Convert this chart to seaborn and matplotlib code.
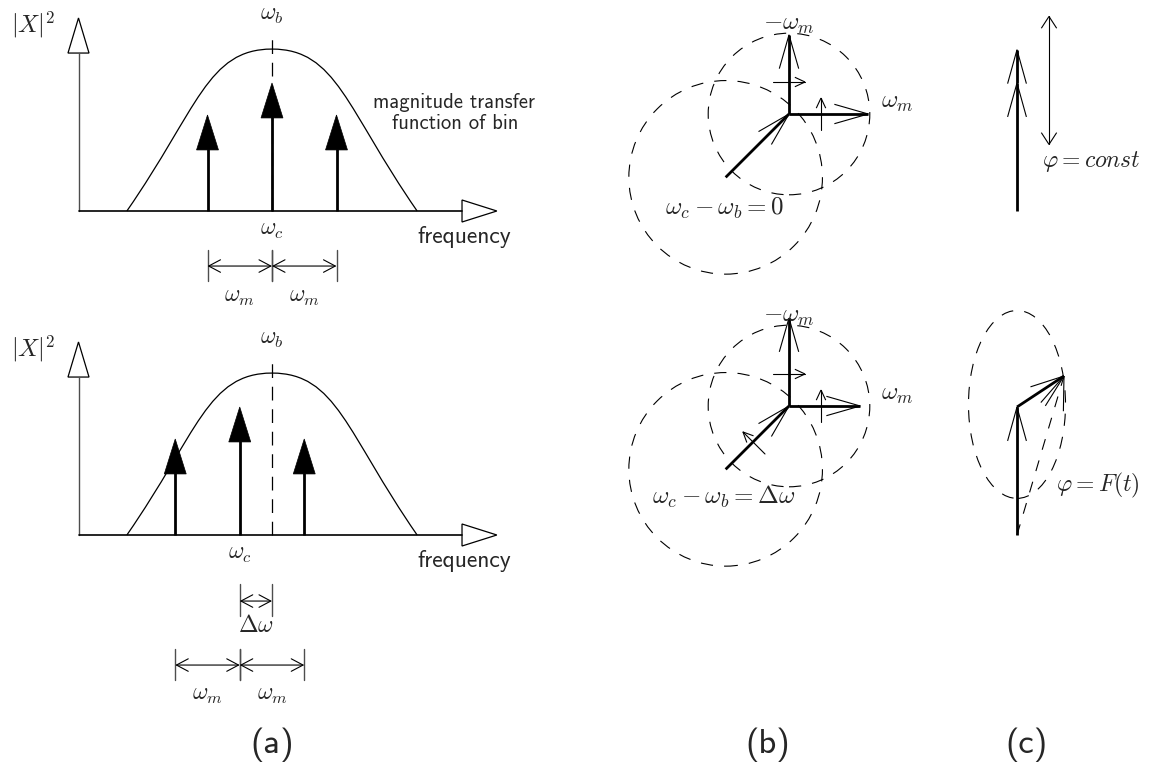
import numpy as np
import pandas as pd
import matplotlib
matplotlib.use("Agg")
import matplotlib.pyplot as plt
import seaborn as sns
from matplotlib.patches import Polygon, Circle, Ellipse, PathPatch
from matplotlib.path import Path

sns.set_theme(style="white")
plt.rcParams["font.family"] = ["cmss10", "DejaVu Sans"]
plt.rcParams["mathtext.fontset"] = "cm"
plt.rcParams["axes.unicode_minus"] = False

# ---------------------------------------------------------------- data
# (a) spectra: frequency in units of omega_m, bin centre omega_b at 0
OMEGA_M = 1.0
DELTA_OMEGA = 0.5
carrier_freqs = [0.0, -DELTA_OMEGA]          # omega_c - omega_b, upper / lower plot
sideband_orders = [-1, 0, 1]
line_heights = [0.75, 1.0, 0.75]
# magnitude transfer function of the bin: left half as cubic Bezier controls
tf_ctrl_f = [-2.25, -1.15, -1.0, 0.0]
tf_ctrl_h = [0.0, 0.80, 1.265, 1.265]

# (b) phasors, amplitudes relative to the unmodulated sideband
carrier_amp = 1.12
carrier_angle_deg = 45.0
neg_sideband_amp = [0.99, 1.10]              # -omega_m, upper / lower diagram
pos_sideband_amp = [0.99, 0.89]              # +omega_m
sideband_orbit_r = 1.01
carrier_orbit_r = 1.21

# (c) resulting phasor, carrier amplitude = 1
res_carrier = [(0.0, 1.0), (0.0, 1.0)]
res_sideband = [(0.0, 0.26), (0.367, 0.242)]
amp_swing = (0.52, 1.52)
tip_ellipse_center = (0.0, 1.02)
tip_ellipse_axes = (0.379, 0.734)

panel_letters = ["(a)", "(b)", "(c)"]

# ---------------------------------------------------------------- layout
W, H, DPI = 1155, 764, 100
fig = plt.figure(figsize=(W / DPI, H / DPI), dpi=DPI)
fig.patch.set_facecolor("white")
all_axes = []


def panel(x0, y0, sx, sy):
    ax = fig.add_axes([0, 0, 1, 1])
    lim = ((-x0 / sx, (W - x0) / sx), ((y0 - H) / sy, y0 / sy))
    ax.set_xlim(*lim[0])
    ax.set_ylim(*lim[1])
    ax.set_axis_off()
    ax.patch.set_alpha(0)
    all_axes.append((ax, lim))
    return ax


K = "black"
MATH = 17


def draw_spectrum(ax, f_c):
    f_axis = -3.0
    y_top = 1.234
    f_end = 2.946
    ax.plot([f_axis, f_axis], [0, y_top], color="0.3", lw=1.0)
    ax.add_patch(Polygon([[f_axis - 0.163, y_top], [f_axis + 0.163, y_top],
                          [f_axis, y_top + 0.274]], closed=True, fc="white", ec=K, lw=0.9))
    ax.plot([f_axis, f_end], [0, 0], color=K, lw=1.2)
    ax.add_patch(Polygon([[f_end, 0.086], [f_end, -0.086], [f_end + 0.54, 0]],
                         closed=True, fc="white", ec=K, lw=0.9))
    # transfer function
    lf, lh = tf_ctrl_f, tf_ctrl_h
    verts = list(zip(lf, lh)) + list(zip([-v for v in lf[::-1]][1:], lh[::-1][1:]))
    codes = [Path.MOVETO] + [Path.CURVE4] * 6
    ax.add_patch(PathPatch(Path(verts, codes), fill=False, ec=K, lw=0.9))
    # bin centre
    ax.plot([0, 0], [0, 1.40], color=K, lw=0.9, ls=(0, (11, 7)), zorder=1)
    # spectral lines
    head = 0.273
    freqs = [f_c + k * OMEGA_M for k in sideband_orders]
    rows = []
    for i, (f, h) in enumerate(zip(freqs, line_heights)):
        rows += [dict(f=f, a=0.0, line=i), dict(f=f, a=h - head + 0.01, line=i)]
    stems = pd.DataFrame(rows)
    sns.lineplot(data=stems, x="f", y="a", units="line", estimator=None, sort=False,
                 color=K, lw=2.0, solid_capstyle="butt", legend=False, ax=ax)
    for f, h in zip(freqs, line_heights):
        ax.add_patch(Polygon([[f - 0.17, h - head], [f + 0.17, h - head], [f, h]],
                             closed=True, fc=K, ec=K, lw=0.5, zorder=3))
    ax.text(0, 1.53, r"$\omega_b$", ha="center", va="center", fontsize=MATH)
    ax.text(f_c, -0.152, r"$\omega_c$", ha="center", va="center", fontsize=MATH)
    ax.text(2.26, -0.205, "frequency", ha="left", va="center", fontsize=17)
    ax.text(-3.71, 1.455, r"$|X|^2$", ha="center", va="center", fontsize=17.5)
    return freqs


def dimension(ax, xa, xb, y, lo, hi, label, ly, fs=MATH):
    for x in (xa, xb):
        ax.plot([x, x], [lo, hi], color="0.3", lw=1.0)
    ax.annotate("", xy=(xb, y), xytext=(xa, y),
                arrowprops=dict(arrowstyle="<->,head_length=0.85,head_width=0.45",
                                mutation_scale=10, shrinkA=0, shrinkB=0, lw=0.8, color=K))
    ax.text((xa + xb) / 2, ly, label, ha="center", va="center", fontsize=fs)


# (a) upper
ax = panel(272, 211, 64.5, 128)
fr = draw_spectrum(ax, carrier_freqs[0])
ax.text(1.566, 0.844, "magnitude transfer", ha="left", va="center", fontsize=14.8)
ax.text(1.86, 0.68, "function of bin", ha="left", va="center", fontsize=14.8)
dimension(ax, fr[0], fr[1], -0.43, -0.305, -0.547, r"$\omega_m$", -0.672)
dimension(ax, fr[1], fr[2], -0.43, -0.305, -0.547, r"$\omega_m$", -0.672)

# (a) lower
ax = panel(272, 535, 64.5, 128)
fr = draw_spectrum(ax, carrier_freqs[1])
dimension(ax, fr[1], 0.0, -0.516, -0.383, -0.633, r"$\Delta\omega$", -0.71)
dimension(ax, fr[0], fr[1], -1.016, -0.89, -1.13, r"$\omega_m$", -1.25)
dimension(ax, fr[1], fr[2], -1.016, -0.89, -1.13, r"$\omega_m$", -1.25)


def arrow_head(ax, tail, tip, length, half_angle, lw=0.8):
    d = np.subtract(tip, tail)
    ang = np.arctan2(d[1], d[0])
    for s in (1, -1):
        a = ang + np.pi + s * np.radians(half_angle)
        ax.plot([tip[0], tip[0] + length * np.cos(a)],
                [tip[1], tip[1] + length * np.sin(a)], color=K, lw=lw,
                solid_capstyle="butt")


def phasor(ax, tail, tip, head, half_angle=16, lw=2.0):
    ax.plot([tail[0], tip[0]], [tail[1], tip[1]], color=K, lw=lw, solid_capstyle="butt")
    arrow_head(ax, tail, tip, head, half_angle)


def small_arrow(ax, tail, tip, head=0.14):
    ax.plot([tail[0], tip[0]], [tail[1], tip[1]], color=K, lw=0.8)
    arrow_head(ax, tail, tip, head, 25)


# (b) phasor diagrams, origin at the sum point
DASH_C = (0, (11, 10))
phi = np.radians(carrier_angle_deg)
tail = (-carrier_amp * np.cos(phi), -carrier_amp * np.sin(phi))
b_centres = [(789, 114), (789, 406)]
eq_labels = [r"$\omega_c-\omega_b=0$", r"$\omega_c-\omega_b=\Delta\omega$"]
eq_y = [-1.175, -1.14]
for i, (cx, cy) in enumerate(b_centres):
    ax = panel(cx, cy, 80, 80)
    ax.add_patch(Circle((0, 0), sideband_orbit_r, fill=False, ec=K, lw=0.8, ls=DASH_C))
    ax.add_patch(Circle(tail, carrier_orbit_r, fill=False, ec=K, lw=0.8, ls=DASH_C))
    phasor(ax, tail, (0, 0), 0.44, 15)
    phasor(ax, (0, 0), (0, neg_sideband_amp[i]), 0.44)
    phasor(ax, (0, 0), (pos_sideband_amp[i], 0), 0.44)
    small_arrow(ax, (-0.2, 0.40), (0.2, 0.40))
    small_arrow(ax, (0.40, -0.2), (0.40, 0.2))
    if i == 1:
        small_arrow(ax, (-0.30, -0.60), (-0.575, -0.325))
    ax.text(0, 1.125, r"$-\omega_m$", ha="center", va="center", fontsize=18)
    ax.text(1.35, 0.15, r"$\omega_m$", ha="center", va="center", fontsize=18)
    ax.text(-0.81, eq_y[i], eq_labels[i], ha="center", va="center", fontsize=18)

# (c) resulting phasor, origin at the foot of the carrier
HEAD_C = 0.275
ax = panel(1017, 211, 128, 128)
c_tip = res_carrier[0]
s_tip = (c_tip[0] + res_sideband[0][0], c_tip[1] + res_sideband[0][1])
phasor(ax, (0, 0), c_tip, HEAD_C, 15.5)
phasor(ax, c_tip, s_tip, HEAD_C, 15.5)
xs = 0.25
ax.plot([xs, xs], list(amp_swing), color=K, lw=0.8)
arrow_head(ax, (xs, amp_swing[0]), (xs, amp_swing[1]), 0.11, 33)
arrow_head(ax, (xs, amp_swing[1]), (xs, amp_swing[0]), 0.11, 33)
ax.text(0.195, 0.383, r"$\varphi = const$", ha="left", va="center", fontsize=17)

ax = panel(1017, 535, 128, 128)
ax.add_patch(Ellipse(tip_ellipse_center, 2 * tip_ellipse_axes[0], 2 * tip_ellipse_axes[1],
                     fill=False, ec=K, lw=0.8, ls=DASH_C))
c_tip = res_carrier[1]
s_tip = (c_tip[0] + res_sideband[1][0], c_tip[1] + res_sideband[1][1])
phasor(ax, (0, 0), c_tip, HEAD_C, 15.5)
phasor(ax, c_tip, s_tip, HEAD_C, 15.5)
ax.plot([0, s_tip[0]], [0, s_tip[1]], color=K, lw=0.8, ls=(0, (10, 10)))
arrow_head(ax, (0, 0), s_tip, HEAD_C, 15.5)
ax.text(0.305, 0.39, r"$\varphi = F(t)$", ha="left", va="center", fontsize=17)

# panel letters
for letter, x in zip(panel_letters, [272, 768, 1027]):
    fig.text(x / W, 1 - 745 / H, letter, ha="center", va="center", fontsize=25)

for ax, lim in all_axes:
    ax.set_xlim(*lim[0])
    ax.set_ylim(*lim[1])

fig.savefig("out.png", dpi=DPI, facecolor="white")
